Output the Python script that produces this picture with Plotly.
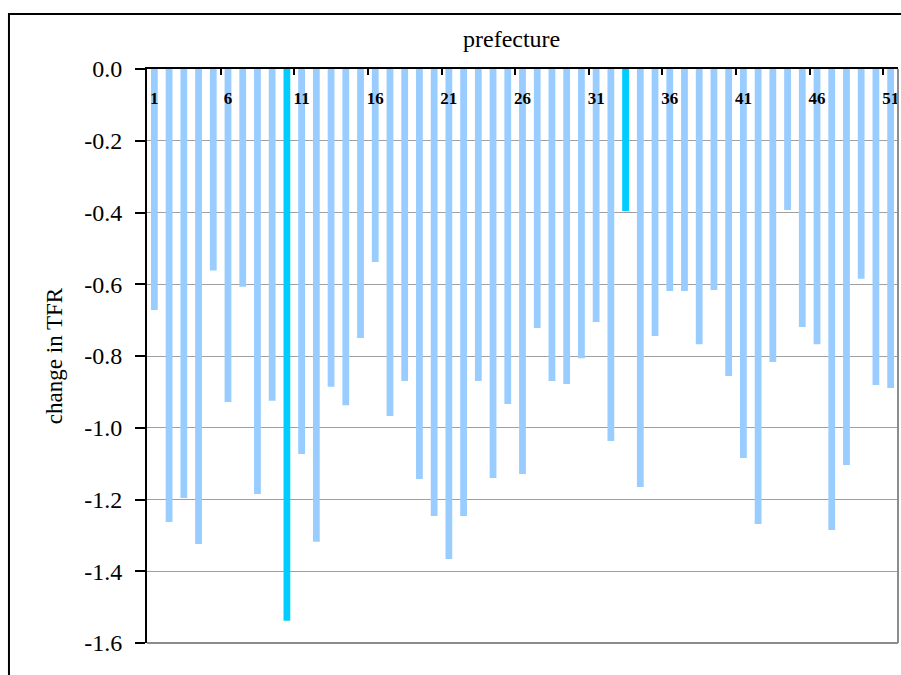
import plotly.graph_objects as go

prefectures = list(range(1, 52))
tfr_change = [
    -0.672, -1.263, -1.196, -1.324, -0.562, -0.928, -0.607, -1.185, -0.925, -1.538,
    -1.073, -1.318, -0.886, -0.937, -0.750, -0.538, -0.967, -0.870, -1.143, -1.246,
    -1.366, -1.246, -0.870, -1.140, -0.934, -1.129, -0.722, -0.870, -0.878, -0.806,
    -0.705, -1.037, -0.396, -1.165, -0.744, -0.619, -0.619, -0.767, -0.616, -0.856,
    -1.084, -1.268, -0.817, -0.393, -0.719, -0.767, -1.285, -1.104, -0.585, -0.881,
    -0.889,
]
highlighted = [10, 33]
tick_labels = [1, 6, 11, 16, 21, 26, 31, 36, 41, 46, 51]
y_ticks = [0.0, -0.2, -0.4, -0.6, -0.8, -1.0, -1.2, -1.4, -1.6]

base_color = "#99CCFF"
hi_color = "#00CCFF"
colors = [hi_color if p in highlighted else base_color for p in prefectures]

font_family = "Liberation Serif, Times New Roman, serif"

fig = go.Figure()
fig.add_trace(go.Bar(
    x=prefectures, y=tfr_change, marker=dict(color=colors, line=dict(width=0)),
    width=0.46, xaxis="x", yaxis="y", showlegend=False,
))
# invisible helper trace on the label axis
fig.add_trace(go.Scatter(x=[1], y=[0], mode="markers", marker=dict(opacity=0),
                         xaxis="x2", yaxis="y", showlegend=False, hoverinfo="skip"))

xrange = [0.5, 51.5]
fig.update_layout(
    width=901, height=675,
    margin=dict(l=147, r=3, t=69, b=32),
    paper_bgcolor="white", plot_bgcolor="white",
    font=dict(family=font_family, color="black"),
    xaxis=dict(
        range=xrange, side="top", tickmode="array",
        tickvals=[t + 4.5 for t in tick_labels[:-1]] + [50.5],
        ticks="inside", ticklen=6, tickwidth=2, tickcolor="black",
        showticklabels=False, showgrid=False, zeroline=False,
        showline=True, linecolor="black", linewidth=2,
    ),
    xaxis2=dict(
        range=xrange, overlaying="x", anchor="free", position=0.9705, side="bottom",
        tickmode="array", tickvals=tick_labels,
        ticktext=[str(t) for t in tick_labels],
        ticks="", showgrid=False, zeroline=False, showline=False,
        tickfont=dict(size=17, family=font_family, weight="bold"),
    ),
    yaxis=dict(
        range=[-1.6, 0], tickmode="array", tickvals=y_ticks,
        ticktext=[f"{v:.1f}" for v in y_ticks],
        ticks="outside", ticklen=10, tickwidth=2, tickcolor="black",
        ticklabelstandoff=8,
        showline=True, linecolor="black", linewidth=2,
        showgrid=True, gridcolor="#a0a0a0", gridwidth=1,
        zeroline=False,
        tickfont=dict(size=24, family=font_family),
        title=dict(text="change in TFR", font=dict(size=23, family=font_family), standoff=15),
    ),
    shapes=[
        dict(type="line", xref="paper", yref="paper", x0=1, x1=1, y0=0, y1=1,
             line=dict(color="#8c8c8c", width=2)),
        dict(type="line", xref="paper", yref="paper", x0=0, x1=1, y0=0, y1=0,
             line=dict(color="#8c8c8c", width=2)),
        dict(type="rect", xref="paper", yref="paper", x0=-0.1838, x1=1.05,
             y0=-0.2, y1=1.0958, line=dict(color="black", width=2), layer="below"),
    ],
    annotations=[
        dict(text="prefecture", xref="paper", yref="paper", x=0.486, y=1.052,
             showarrow=False, font=dict(size=24, family=font_family),
             xanchor="center", yanchor="middle"),
    ],
)

fig.write_html("out.html")
